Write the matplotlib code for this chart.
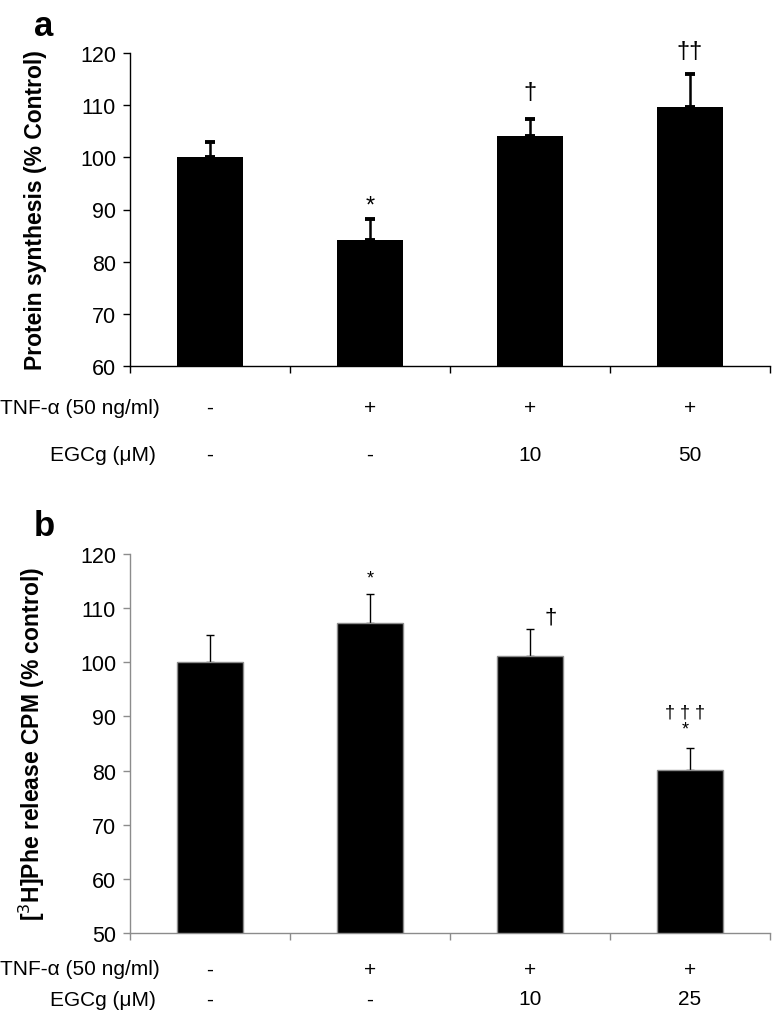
import matplotlib
matplotlib.use('Agg')
import matplotlib.pyplot as plt

plt.rcParams['font.family'] = ['Liberation Sans', 'DejaVu Sans']

# panel a: protein synthesis
synthesis = [100.0, 84.1, 104.1, 109.6]
synthesis_err = [3.0, 4.1, 3.3, 6.3]
synthesis_marks = ['', '*', '\u2020', '\u2020\u2020']
synthesis_mark_y = [None, 90.8, 112.6, 120.3]
tnf_a = ['-', '+', '+', '+']
egcg_a = ['-', '-', '10', '50']

# panel b: [3H]Phe release
release = [100.0, 107.3, 101.1, 80.1]
release_err = [5.0, 5.4, 5.1, 4.0]
tnf_b = ['-', '+', '+', '+']
egcg_b = ['-', '-', '10', '25']

x = [0.5, 1.5, 2.5, 3.5]

fig = plt.figure(figsize=(7.73, 10.20), dpi=100)


def setup(ax, color, ylim, yticks):
    ax.set_xlim(0, 4)
    ax.set_ylim(*ylim)
    ax.set_yticks(yticks)
    ax.set_xticks([0, 1, 2, 3, 4])
    ax.set_xticklabels([])
    for s in ['top', 'right']:
        ax.spines[s].set_visible(False)
    for s in ['left', 'bottom']:
        ax.spines[s].set_color(color)
        ax.spines[s].set_linewidth(1.0)
    ax.tick_params(axis='both', direction='out', length=5, width=1.0,
                   color=color, labelsize=15.5)
    ax.tick_params(axis='y', pad=5)


def rows(ax, tnf, egcg, y1, y2):
    tr = ax.get_xaxis_transform()
    for xi, t, e in zip(x, tnf, egcg):
        ax.text(xi, y1, t, transform=tr, ha='center', va='center', fontsize=15)
        ax.text(xi, y2, e, transform=tr, ha='center', va='center', fontsize=15)


# ---- panel a
ax1 = fig.add_axes([130 / 773, 1 - 367 / 1020, 640 / 773, 313 / 1020])
setup(ax1, 'black', (60, 120), range(60, 121, 10))
ax1.bar(x, synthesis, width=0.41, bottom=0, color='black', zorder=2)
ax1.errorbar(x, synthesis, yerr=[[0] * 4, synthesis_err], fmt='none',
             ecolor='black', elinewidth=1.8, capsize=3.5, capthick=2.8, zorder=1)
for xi, m, my in zip(x, synthesis_marks, synthesis_mark_y):
    if m:
        ax1.text(xi, my, m, ha='center', va='center', fontsize=17)
ax1.set_ylabel('Protein synthesis (% Control)', fontsize=16.5,
               fontweight='bold')
ax1.yaxis.set_label_coords(-83 / 640, 0.5)
rows(ax1, tnf_a, egcg_a, -0.131, -0.283)
fig.text(160 / 773, 1 - 408 / 1020, 'TNF-\u03b1 (50 ng/ml)', ha='right',
         va='center', fontsize=15)
fig.text(156 / 773, 1 - 456 / 1020, 'EGCg (\u03bcM)', ha='right',
         va='center', fontsize=15)
fig.text(34 / 773, 1 - 27 / 1020, 'a', fontsize=25, fontweight='bold',
         va='center')

# ---- panel b
ax2 = fig.add_axes([130 / 773, 1 - 934 / 1020, 640 / 773, 379 / 1020])
setup(ax2, '#8c8c8c', (50, 120), range(50, 121, 10))
ax2.bar(x, release, width=0.41, color='black', edgecolor='#8c8c8c',
        linewidth=1.0, zorder=2)
ax2.errorbar(x, release, yerr=[[0] * 4, release_err], fmt='none',
             ecolor='black', elinewidth=1.0, capsize=3, capthick=1.0, zorder=1)
ax2.text(x[1], 115.6, '*', ha='center', va='center', fontsize=13)
ax2.text(x[2] + 0.13, 108.3, '\u2020', ha='center', va='center', fontsize=16)
ax2.text(x[3] - 0.03, 90.8, '\u2020 \u2020 \u2020', ha='center', va='center',
         fontsize=13)
ax2.text(x[3] - 0.03, 87.6, '*', ha='center', va='center', fontsize=13)
ax2.set_ylabel('[$^{3}$H]Phe release CPM (% control)', fontsize=16.5,
               fontweight='bold')
ax2.yaxis.set_label_coords(-83 / 640, 0.5)
rows(ax2, tnf_b, egcg_b, -0.095, -0.174)
fig.text(160 / 773, 1 - 970 / 1020, 'TNF-\u03b1 (50 ng/ml)', ha='right',
         va='center', fontsize=15)
fig.text(156 / 773, 1 - 1001 / 1020, 'EGCg (\u03bcM)', ha='right',
         va='center', fontsize=15)
fig.text(34 / 773, 1 - 526 / 1020, 'b', fontsize=25, fontweight='bold',
         va='center')

fig.savefig('out.png', dpi=100)
